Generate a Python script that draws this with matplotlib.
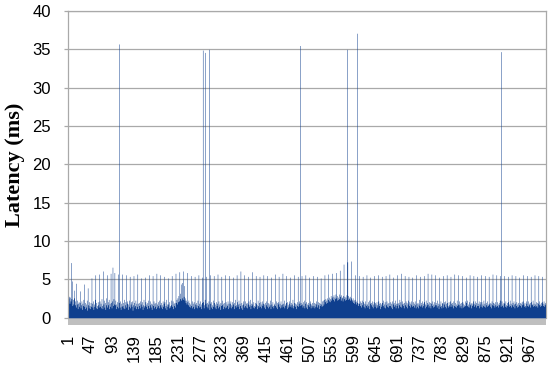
import matplotlib
matplotlib.use('Agg')
import matplotlib.pyplot as plt
from matplotlib.patches import Rectangle
import numpy as np

# ==================== Data ====================
# baseline latency per request (ms), 16 samples per row
latency = [
    2.6, 2.8, 1.9, 2.7, 2.2, 7.2, 2.5, 4.8, 1.6, 2.4, 1.8, 2.6, 3.6, 1.7, 2.2, 1.4,
    4.5, 1.8, 2.3, 1.2, 1.9, 2.1, 1.5, 2.0, 3.5, 1.3, 1.7, 2.2, 1.1, 1.9, 1.6, 2.4,
    4.4, 1.5, 2.0, 1.2, 1.8, 1.4, 2.3, 1.0, 3.9, 1.7, 1.3, 2.1, 1.6, 1.2, 2.0, 1.5,
    5.2, 1.9, 1.4, 2.2, 1.1, 1.8, 1.5, 2.4, 5.6, 1.3, 2.0, 1.6, 1.2, 2.1, 1.7, 1.4,
    5.7, 2.2, 1.5, 1.9, 1.3, 2.5, 1.6, 1.2, 6.1, 1.8, 2.3, 1.4, 2.0, 1.1, 1.7, 2.6,
    5.6, 1.4, 2.1, 1.7, 2.4, 1.2, 1.9, 1.5, 5.8, 2.0, 1.3, 2.2, 6.6, 1.6, 2.5, 1.8,
    5.9, 1.7, 2.3, 1.2, 1.8, 1.5, 2.1, 1.3, 5.7, 2.0, 1.6, 1.4, 2.2, 1.1, 1.9, 1.5,
    5.7, 1.6, 2.0, 1.3, 2.4, 1.2, 1.7, 2.1, 5.6, 1.4, 1.9, 2.2, 1.1, 1.8, 1.5, 2.3,
    5.4, 1.3, 1.8, 2.1, 1.5, 2.2, 1.0, 1.7, 5.5, 2.0, 1.4, 1.6, 2.3, 1.2, 1.9, 1.5,
    5.7, 1.9, 1.2, 2.0, 1.6, 1.3, 2.2, 1.8, 5.2, 1.5, 2.1, 1.1, 1.7, 2.4, 1.4, 1.6,
    5.3, 2.1, 1.5, 1.8, 1.2, 2.0, 1.6, 2.3, 5.6, 1.3, 1.7, 2.2, 1.4, 1.9, 1.1, 1.8,
    5.5, 1.6, 2.2, 1.3, 1.9, 1.5, 2.0, 1.2, 5.8, 1.8, 1.4, 2.1, 1.6, 2.3, 1.3, 1.7,
    5.6, 1.4, 2.0, 1.7, 1.2, 2.2, 1.5, 1.9, 5.4, 2.1, 1.3, 1.6, 2.4, 1.1, 1.8, 1.5,
    5.2, 1.8, 1.3, 2.1, 1.6, 1.4, 2.3, 1.7, 5.5, 1.5, 2.2, 1.2, 1.9, 1.6, 2.0, 1.4,
    5.8, 2.0, 2.4, 1.8, 2.6, 2.1, 2.9, 2.2, 6.0, 2.5, 3.2, 2.3, 4.4, 2.6, 4.6, 2.4,
    6.1, 2.8, 4.2, 2.3, 2.6, 2.0, 2.3, 1.8, 5.9, 2.1, 1.7, 2.3, 1.5, 2.0, 1.8, 1.4,
    5.5, 1.6, 2.2, 1.3, 1.9, 1.5, 2.1, 1.2, 5.4, 1.8, 1.4, 2.0, 1.7, 1.3, 2.3, 1.6,
    5.6, 1.9, 1.4, 2.2, 1.5, 1.8, 1.2, 2.0, 5.3, 1.6, 2.1, 1.3, 1.7, 2.4, 1.5, 1.9,
    5.4, 1.5, 2.0, 1.3, 1.8, 2.2, 1.6, 1.1, 5.6, 1.9, 1.4, 2.1, 1.7, 1.2, 2.3, 1.5,
    5.5, 2.0, 1.4, 1.8, 1.2, 2.1, 1.6, 1.9, 5.7, 1.3, 2.2, 1.5, 1.8, 1.1, 2.0, 1.6,
    5.4, 1.7, 2.3, 1.2, 1.9, 1.5, 2.0, 1.3, 5.6, 2.1, 1.4, 1.8, 1.6, 2.2, 1.2, 1.9,
    5.5, 1.4, 1.9, 2.2, 1.3, 1.7, 2.1, 1.5, 5.3, 1.8, 1.2, 2.0, 1.6, 2.4, 1.4, 1.7,
    5.6, 2.1, 1.5, 1.8, 2.3, 1.2, 1.9, 1.6, 6.1, 1.3, 2.0, 1.7, 1.1, 2.2, 1.8, 1.4,
    5.6, 1.6, 2.2, 1.4, 1.9, 2.0, 1.3, 1.8, 5.4, 2.2, 1.5, 1.7, 2.4, 1.2, 1.9, 1.6,
    6.0, 1.8, 1.4, 2.1, 1.6, 1.3, 2.0, 1.5, 5.5, 1.9, 1.7, 1.2, 2.3, 1.6, 1.4, 2.0,
    5.4, 1.5, 2.1, 1.3, 1.8, 2.2, 1.6, 1.9, 5.6, 1.4, 1.8, 2.0, 1.2, 1.7, 2.2, 1.5,
    5.5, 2.0, 1.3, 1.9, 1.5, 1.7, 2.3, 1.2, 5.3, 1.8, 1.5, 2.1, 1.6, 1.3, 1.9, 1.7,
    5.7, 1.6, 2.2, 1.4, 2.0, 1.2, 1.8, 2.1, 5.4, 1.5, 1.9, 1.3, 2.2, 1.7, 1.4, 1.8,
    5.8, 1.9, 1.5, 2.3, 1.3, 1.8, 1.6, 2.0, 5.5, 1.2, 2.1, 1.7, 1.4, 1.9, 2.2, 1.5,
    5.3, 1.7, 2.0, 1.4, 1.8, 2.4, 1.3, 1.6, 5.6, 2.0, 1.5, 1.9, 1.2, 1.8, 2.1, 1.6,
    5.4, 1.5, 1.9, 2.2, 1.6, 1.3, 2.0, 1.7, 5.5, 1.8, 1.4, 2.1, 1.6, 2.3, 1.3, 1.9,
    5.6, 2.1, 1.4, 1.8, 1.2, 2.0, 1.7, 1.5, 5.3, 1.9, 2.2, 1.3, 1.8, 1.6, 2.0, 1.4,
    5.5, 1.6, 2.0, 1.3, 1.9, 1.5, 2.2, 1.8, 5.4, 1.4, 1.7, 2.1, 1.2, 2.0, 1.6, 1.9,
    5.2, 1.8, 1.5, 2.2, 1.6, 2.3, 1.8, 2.4, 5.6, 2.1, 2.5, 1.9, 2.3, 2.6, 2.0, 2.4,
    5.7, 2.2, 2.7, 2.1, 2.5, 2.9, 2.3, 2.6, 5.8, 2.8, 2.4, 3.0, 2.2, 2.7, 2.5, 3.1,
    5.9, 2.6, 2.9, 2.3, 2.7, 2.4, 3.1, 2.5, 6.2, 2.8, 2.3, 3.0, 2.6, 2.7, 2.2, 2.9,
    7.0, 2.5, 2.8, 2.3, 2.7, 2.4, 3.0, 2.6, 7.3, 2.9, 2.4, 2.7, 2.5, 2.3, 2.8, 2.6,
    7.4, 2.4, 2.2, 2.6, 2.0, 2.3, 1.9, 2.4, 5.6, 2.1, 1.8, 2.2, 1.7, 2.0, 1.6, 1.9,
    5.5, 1.9, 2.2, 1.6, 2.0, 1.4, 2.3, 1.7, 5.4, 2.1, 1.5, 1.9, 1.3, 2.2, 1.8, 1.6,
    5.6, 1.8, 1.4, 2.1, 1.6, 2.3, 1.2, 1.9, 5.3, 1.7, 2.0, 1.5, 2.2, 1.3, 1.8, 2.1,
    5.5, 1.5, 2.0, 1.8, 1.3, 2.1, 1.7, 1.4, 5.6, 2.2, 1.6, 1.9, 1.2, 2.0, 1.5, 1.8,
    5.4, 2.0, 1.6, 2.3, 1.4, 1.8, 2.1, 1.3, 5.5, 1.7, 2.2, 1.5, 1.9, 1.4, 2.0, 1.6,
    5.7, 1.6, 2.1, 1.4, 1.9, 1.2, 2.2, 1.8, 5.3, 2.0, 1.5, 1.7, 2.3, 1.3, 1.9, 1.6,
    5.6, 1.9, 1.3, 2.0, 1.7, 2.4, 1.5, 2.1, 5.8, 1.4, 1.8, 2.2, 1.6, 1.9, 1.3, 2.0,
    5.5, 1.7, 2.2, 1.5, 2.0, 1.3, 1.8, 2.3, 5.4, 1.6, 2.1, 1.4, 1.9, 2.2, 1.7, 1.5,
    5.3, 2.1, 1.6, 1.9, 1.4, 2.2, 1.7, 1.3, 5.6, 1.9, 1.5, 2.0, 1.3, 1.8, 2.4, 1.6,
    5.4, 1.5, 2.0, 1.7, 2.2, 1.4, 1.9, 1.6, 5.5, 2.1, 1.3, 1.8, 2.3, 1.5, 1.7, 2.0,
    5.8, 1.8, 1.4, 2.1, 1.6, 2.0, 1.3, 1.9, 5.7, 1.6, 2.2, 1.4, 1.8, 2.1, 1.5, 1.7,
    5.6, 2.0, 1.7, 1.4, 2.3, 1.6, 1.9, 1.2, 5.3, 1.8, 1.5, 2.2, 1.6, 1.3, 2.0, 1.9,
    5.5, 1.4, 2.1, 1.8, 1.5, 2.2, 1.3, 1.9, 5.6, 2.0, 1.6, 1.4, 2.1, 1.7, 1.5, 2.2,
    5.4, 1.9, 1.5, 2.0, 1.7, 1.3, 2.2, 1.6, 5.7, 1.5, 2.0, 1.8, 1.4, 2.3, 1.6, 1.8,
    5.6, 1.7, 2.2, 1.4, 1.9, 1.6, 2.0, 1.3, 5.5, 2.1, 1.4, 1.9, 1.7, 1.5, 2.2, 1.6,
    5.3, 2.0, 1.6, 2.3, 1.5, 1.8, 1.4, 2.1, 5.6, 1.7, 1.9, 1.3, 2.0, 1.6, 1.8, 2.2,
    5.5, 1.5, 1.9, 1.7, 2.2, 1.4, 2.0, 1.6, 5.4, 1.9, 1.6, 2.2, 1.3, 1.8, 2.1, 1.5,
    5.6, 2.1, 1.4, 1.8, 1.6, 2.3, 1.5, 1.9, 5.5, 1.4, 2.0, 1.7, 2.2, 1.5, 1.8, 1.6,
    5.4, 1.8, 2.0, 1.5, 1.9, 1.3, 2.2, 1.7, 5.7, 2.0, 1.6, 1.9, 1.4, 2.1, 1.7, 1.5,
    5.6, 1.6, 2.1, 1.8, 1.4, 2.0, 1.7, 2.3, 5.5, 1.5, 1.9, 2.2, 1.6, 1.8, 1.4, 2.0,
    5.5, 1.9, 1.5, 2.2, 1.7, 1.4, 2.0, 1.6, 5.4, 2.1, 1.8, 1.5, 2.3, 1.6, 1.9, 1.4,
    5.6, 1.7, 2.0, 1.5, 2.2, 1.8, 1.3, 1.9, 5.5, 1.6, 2.1, 1.4, 1.8, 2.0, 1.5, 1.7,
    5.3, 2.0, 1.6, 1.9, 1.4, 2.1, 1.7, 2.2, 5.6, 1.8, 1.5, 2.0, 1.6, 1.4, 2.2, 1.9,
    5.5, 1.6, 2.2, 1.5, 1.9, 1.7, 2.0, 1.4, 5.4, 2.1, 1.7, 1.8, 2.3, 1.5, 1.9, 1.6,
    5.6, 1.8, 1.5, 2.1, 1.6, 2.0, 1.4, 1.9, 5.5, 1.7, 2.2, 1.5, 1.8, 2.0, 1.6, 2.1,
    5.4, 1.9, 1.6, 2.2, 1.5, 1.8, 2.0, 1.7,
]

# the big latency spikes (1-based request number, ms)
peak_idx = [107, 282, 287, 295, 486, 584, 605, 907]
peak_val = [35.7, 34.9, 34.6, 35.0, 35.5, 35.0, 37.1, 34.7]

xtick_labels = ['1', '47', '93', '139', '185', '231', '277', '323', '369', '415', '461',
                '507', '553', '599', '645', '691', '737', '783', '829', '875', '921', '967']

for i, v in zip(peak_idx, peak_val):
    latency[i - 1] = v
n = len(latency)
xs = np.arange(1, n + 1)

# ==================== Plot ====================
fig = plt.figure(figsize=(5.5, 3.66), dpi=100)
ax = fig.add_axes([0.1242, 0.1317, 0.8680, 0.8383])

# columns are narrower than a pixel: draw them as one stepped outline so the
# dense part stays solid and lone columns come out light (like the original)
ax.fill_between(xs, 0, latency, step='mid', color='#0f3f8e', linewidth=0,
                antialiased=True, zorder=3)

ax.set_xlim(0.5, n + 0.5)
ax.set_ylim(0, 40)
ax.set_yticks(range(0, 41, 5))
ax.yaxis.grid(True, color='#a9a9a9', lw=0.9, zorder=0)
ax.set_axisbelow(True)

ax.set_xticks([int(t) for t in xtick_labels])
ax.set_xticklabels(xtick_labels, rotation=90, va='top', ha='center')

ax.tick_params(axis='x', length=0, pad=12, labelsize=12)
ax.tick_params(axis='y', length=3, width=0.9, color='#a9a9a9', pad=9.5, labelsize=12)
for lbl in ax.get_xticklabels() + ax.get_yticklabels():
    lbl.set_fontfamily('Liberation Sans')

for side in ('left', 'right', 'top'):
    ax.spines[side].set_color('#a9a9a9')
    ax.spines[side].set_linewidth(0.9)
ax.spines['bottom'].set_visible(False)

# gray floor below the zero line
ax.add_patch(Rectangle((0, -0.023), 1, 0.023, transform=ax.transAxes,
                       facecolor='#bfbfbf', edgecolor='none', clip_on=False, zorder=2))

ax.set_ylabel('Latency (ms)', fontsize=16, fontweight='bold',
              fontfamily='Liberation Serif', labelpad=5)

fig.savefig('out.png', dpi=100)
